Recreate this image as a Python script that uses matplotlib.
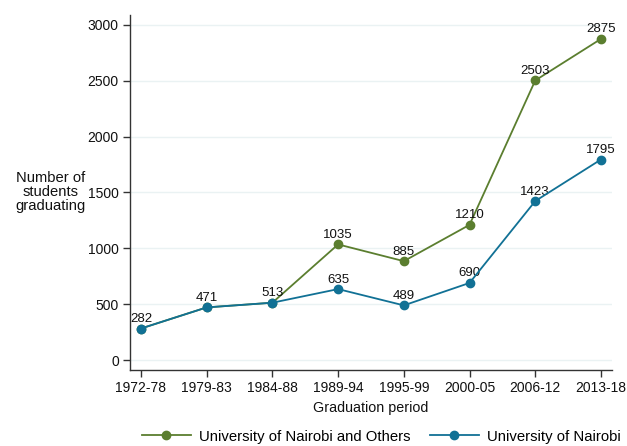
import matplotlib
matplotlib.use("Agg")
import matplotlib.pyplot as plt

periods = ["1972-78", "1979-83", "1984-88", "1989-94", "1995-99", "2000-05", "2006-12", "2013-18"]
uon_others = [282, 471, 513, 1035, 885, 1210, 2503, 2875]
uon = [282, 471, 513, 635, 489, 690, 1423, 1795]
yticks = [0, 500, 1000, 1500, 2000, 2500, 3000]

green = "#5b7e2f"
blue = "#117195"

plt.rcParams['font.family'] = ['Liberation Sans', 'DejaVu Sans']

fig = plt.figure(figsize=(6.27, 4.46), dpi=100)
ax = fig.add_axes([0.2073, 0.1704, 0.7687, 0.796])

x = list(range(len(periods)))
l1, = ax.plot(x, uon_others, color=green, lw=1.3, marker='o', ms=6, label="University of Nairobi and Others", zorder=3)
l2, = ax.plot(x, uon, color=blue, lw=1.3, marker='o', ms=6, label="University of Nairobi", zorder=4)

for i, v in enumerate(uon_others):
    if i < 3:
        continue
    ax.annotate(str(v), (i, v), xytext=(0, 2.5), textcoords='offset points', ha='center', va='bottom', fontsize=9.5, color='#111111')
for i, v in enumerate(uon):
    ax.annotate(str(v), (i, v), xytext=(0, 2.5), textcoords='offset points', ha='center', va='bottom', fontsize=9.5, color='#111111')

ax.set_xlim(-0.167, 7.167)
ax.set_ylim(-89.5, 3089)
ax.set_yticks(yticks)
ax.set_yticklabels([str(t) for t in yticks])
ax.set_xticks(x)
ax.set_xticklabels(periods)
ax.tick_params(axis='both', labelsize=10, length=5, width=1, color='#333333', labelcolor='#111111')
ax.tick_params(axis='x', pad=3)
ax.tick_params(axis='y', pad=3)

ax.grid(axis='y', color='#eaf2f3', lw=1)
ax.set_axisbelow(True)
for s in ['top', 'right']:
    ax.spines[s].set_visible(False)
for s in ['left', 'bottom']:
    ax.spines[s].set_color('#333333')
    ax.spines[s].set_linewidth(1)

ax.set_xlabel("Graduation period", fontsize=10.3, color='#111111', labelpad=4)
fig.text(0.081, 0.57, "Number of\nstudents\ngraduating", ha='center', va='center', fontsize=10.6, color='#111111', linespacing=0.98)

fig.legend(handles=[l1, l2], loc='center', bbox_to_anchor=(0.608, 0.021), ncol=2, frameon=False,
           fontsize=10.7, handlelength=3.3, columnspacing=1.3, handletextpad=0.55, borderpad=0, borderaxespad=0)

fig.savefig("out.png", dpi=100)
